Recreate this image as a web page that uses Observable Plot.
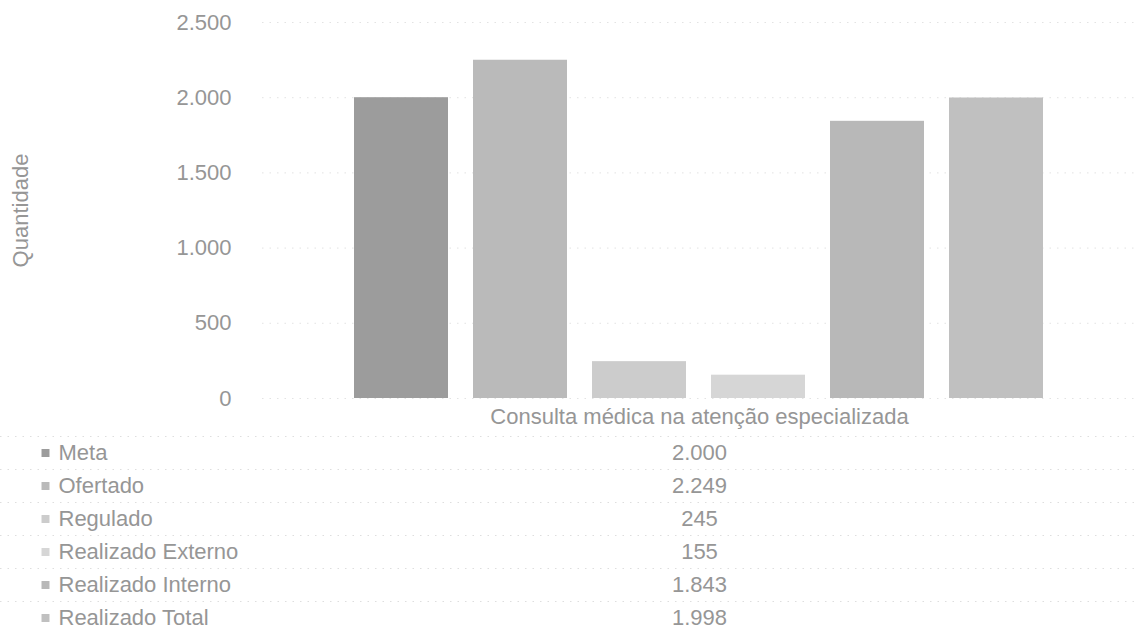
<!DOCTYPE html>
<html>
<head>
<meta charset="utf-8">
<script src="https://cdn.jsdelivr.net/npm/d3@7"></script>
<script src="https://cdn.jsdelivr.net/npm/@observablehq/plot@0.6"></script>
<style>
  html, body { margin: 0; padding: 0; background: #fff; }
  #chart { width: 1136px; height: 634px; overflow: hidden; font-family: "Liberation Sans", Arial, sans-serif; }
  #chart svg { display: block; }
</style>
</head>
<body>
<div id="chart"></div>
<script>
// ---- data ----
const categoria = "Consulta médica na atenção especializada";
const series = ["Meta", "Ofertado", "Regulado", "Realizado Externo", "Realizado Interno", "Realizado Total"];
const values = [2000, 2249, 245, 155, 1843, 1998];
const colors = ["#9c9c9c", "#bababa", "#cccccc", "#d6d6d6", "#b8b8b8", "#c0c0c0"];
const yTicks = [0, 500, 1000, 1500, 2000, 2500];
const yTitle = "Quantidade";

const data = series.map((s, i) => ({serie: s, valor: values[i]}));
const ptBR = d3.formatLocale({decimal: ",", thousands: ".", grouping: [3], currency: ["R$", ""]});
const fmt = ptBR.format(",d");
const textColor = "#969696";
const font = "Liberation Sans, Arial, sans-serif";

const chart = Plot.plot({
  width: 1136,
  height: 436,
  marginLeft: 262,
  marginRight: 0,
  marginTop: 22,
  marginBottom: 38,
  style: {fontFamily: font, color: textColor, background: "#fff"},
  x: {domain: series, paddingInner: 0.21, paddingOuter: 0.77, align: 0.5, axis: null},
  y: {domain: [0, 2500], ticks: yTicks},
  color: {domain: series, range: colors},
  marks: [
    Plot.gridY(yTicks, {stroke: "#c8c8c8", strokeOpacity: 0.5, strokeDasharray: "1.5,6"}),
    Plot.axisY(yTicks, {
      tickSize: 0, tickPadding: 31, tickFormat: fmt, fontSize: 22, fill: textColor,
      label: yTitle, labelAnchor: "center", labelArrow: "none", labelOffset: 250
    }),
    Plot.barY(data, {x: "serie", y: "valor", fill: "serie"}),
    Plot.text([categoria], {frameAnchor: "bottom", dy: 18, lineAnchor: "middle", fontSize: 22, fill: textColor})
  ]
});

const table = Plot.plot({
  width: 1136,
  height: 198,
  marginLeft: 0,
  marginRight: 0,
  marginTop: 0,
  marginBottom: 0,
  style: {fontFamily: font, color: textColor, background: "#fff"},
  x: {type: "point", domain: ["nome", "valor"], range: [58, 699], padding: 0, axis: null},
  y: {type: "band", domain: series, range: [0, 198], padding: 0, axis: null},
  color: {domain: series, range: colors},
  marks: [
    Plot.ruleY(series, {y: (d) => d, dy: -16.5, stroke: "#c8c8c8", strokeOpacity: 0.6, strokeDasharray: "1.5,6"}),
    Plot.dot(series, {x: () => "nome", y: (d) => d, symbol: "square", r: 4.5, fill: (d) => d, dx: -13}),
    Plot.text(series, {x: () => "nome", y: (d) => d, text: (d) => d, textAnchor: "start", fontSize: 22, fill: textColor}),
    Plot.text(data, {x: () => "valor", y: "serie", text: (d) => fmt(d.valor), textAnchor: "middle", fontSize: 22, fill: textColor})
  ]
});

const root = document.getElementById("chart");
root.appendChild(chart);
root.appendChild(table);
</script>
</body>
</html>
